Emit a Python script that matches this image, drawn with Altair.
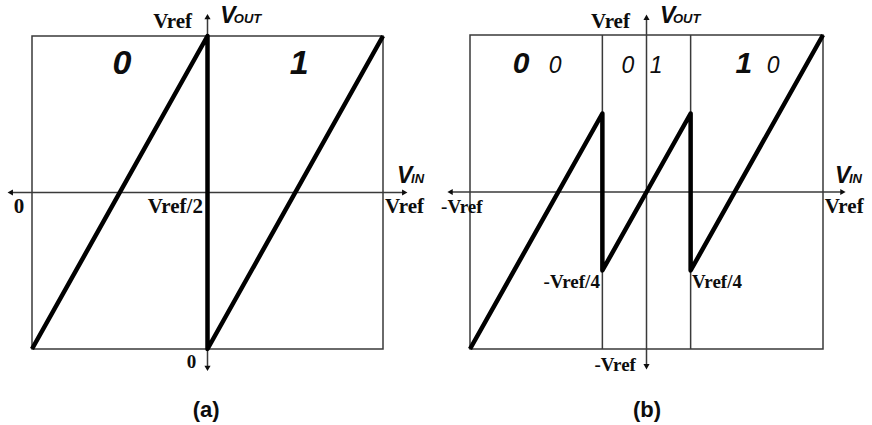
import altair as alt
import pandas as pd

# ---- transfer characteristics (input and output normalised to Vref = 1) ----
# (a) 1-bit stage: Vin from 0 to Vref, residue 0..Vref
vin_a = [0.0, 0.5, 0.5, 1.0]
vout_a = [0.0, 1.0, 0.0, 1.0]
# (b) 1.5-bit stage: Vin from -Vref to Vref, decision levels at +/-Vref/4
vin_b = [-1.0, -0.25, -0.25, 0.25, 0.25, 1.0]
vout_b = [-1.0, 0.5, -0.5, 0.5, -0.5, 1.0]
thresholds_b = [-0.25, 0.25]

# digital output codes of each region
codes_a = ["0", "1"]
codes_b = [("0", "0"), ("0", "1"), ("1", "0")]

# axis annotations
ticks_a = {"left": "0", "mid": "Vref/2", "right": "Vref", "top": "Vref", "bottom": "0"}
ticks_b = {"left": "-Vref", "right": "Vref", "top": "Vref", "bottom": "-Vref",
           "thr_lo": "-Vref/4", "thr_hi": "Vref/4"}
captions = ["(a)", "(b)"]

# ---- layout ----
W, H = 436, 425
INK = "#0d0d0d"
LINE = "#3a3a3a"

STYLES = {
    "serif_r": dict(font="Liberation Serif", fontWeight="bold", align="right"),
    "serif_l": dict(font="Liberation Serif", fontWeight="bold", align="left"),
    "v_main": dict(font="Liberation Sans", fontWeight="bold", fontStyle="italic", align="left"),
    "code_big": dict(font="Liberation Sans", fontWeight="bold", fontStyle="italic", align="center"),
    "code_small": dict(font="Liberation Sans", fontStyle="italic", align="center"),
    "caption": dict(font="Liberation Sans", fontWeight="bold", align="center"),
}


def panel(xdom, ydom, box, curve, segs, heads, labels):
    sx = alt.Scale(domain=xdom, nice=False, zero=False)
    sy = alt.Scale(domain=ydom, nice=False, zero=False)

    def xq(f):
        return alt.X(f, type="quantitative", scale=sx, axis=None)

    def yq(f):
        return alt.Y(f, type="quantitative", scale=sy, axis=None)

    frame = alt.Chart(pd.DataFrame([box])).mark_rect(
        fillOpacity=0, stroke=LINE, strokeWidth=1.5
    ).encode(x=xq("x0"), x2="x1", y=yq("y0"), y2="y1")

    rules = alt.Chart(pd.DataFrame(segs)).mark_rule(
        color=LINE, strokeWidth=1.5
    ).encode(x=xq("x0"), x2="x1", y=yq("y0"), y2="y1")

    arrows = alt.Chart(pd.DataFrame(heads)).mark_point(
        filled=True, color=INK, opacity=1, size=38
    ).encode(x=xq("x"), y=yq("y"), shape=alt.Shape("shape:N", scale=None))

    line = alt.Chart(pd.DataFrame(curve)).mark_line(
        color="black", strokeWidth=4.5, strokeJoin="round", strokeCap="butt"
    ).encode(x=xq("vin"), y=yq("vout"), order="i:Q")

    ldf = pd.DataFrame(labels)
    texts = []
    for key, st in STYLES.items():
        texts.append(
            alt.Chart(ldf).transform_filter(alt.datum.style == key).mark_text(
                baseline="alphabetic", color=INK, **st
            ).encode(
                x=xq("x"), y=yq("y"), text="text:N",
                size=alt.Size("fs:Q", scale=None),
            )
        )
    return alt.layer(frame, rules, line, arrows, *texts).properties(width=W, height=H)


# ---------- panel (a) ----------
ov_a = 0.062
curve_a = [dict(i=i, vin=v, vout=o) for i, (v, o) in enumerate(zip(vin_a, vout_a))]
segs_a = [
    dict(x0=-ov_a, x1=1 + ov_a, y0=0.5, y1=0.5),
    dict(x0=0.5, x1=0.5, y0=-ov_a, y1=1 + ov_a),
]
heads_a = [
    dict(x=-ov_a, y=0.5, shape="triangle-left"),
    dict(x=1 + ov_a, y=0.5, shape="triangle-right"),
    dict(x=0.5, y=1 + ov_a, shape="triangle-up"),
    dict(x=0.5, y=-ov_a, shape="triangle-down"),
]
labels_a = [
    dict(text=ticks_a["top"], x=0.456, y=1.026, style="serif_r", fs=21),
    dict(text="V", x=0.536, y=1.042, style="v_main", fs=23),
    dict(text="OUT", x=0.575, y=1.042, style="v_main", fs=13),
    dict(text="V", x=1.040, y=0.530, style="v_main", fs=23),
    dict(text="IN", x=1.080, y=0.530, style="v_main", fs=13),
    dict(text=ticks_a["left"], x=-0.052, y=0.435, style="serif_l", fs=21),
    dict(text=ticks_a["mid"], x=0.487, y=0.435, style="serif_r", fs=21),
    dict(text=ticks_a["right"], x=1.006, y=0.435, style="serif_l", fs=21),
    dict(text=ticks_a["bottom"], x=0.468, y=-0.061, style="serif_r", fs=19),
    dict(text=codes_a[0], x=0.256, y=0.879, style="code_big", fs=34),
    dict(text=codes_a[1], x=0.761, y=0.879, style="code_big", fs=34),
    dict(text=captions[0], x=0.496, y=-0.217, style="caption", fs=22),
]
chart_a = panel(
    [-32 / 351, 404 / 351], [-76 / 313, 349 / 313],
    dict(x0=0, x1=1, y0=0, y1=1), curve_a, segs_a, heads_a, labels_a,
)

# ---------- panel (b) ----------
ov_b = 0.113
curve_b = [dict(i=i, vin=v, vout=o) for i, (v, o) in enumerate(zip(vin_b, vout_b))]
segs_b = [
    dict(x0=-1 - ov_b, x1=1 + ov_b, y0=0, y1=0),
    dict(x0=0, x1=0, y0=-1 - ov_b, y1=1 + ov_b),
] + [dict(x0=t, x1=t, y0=-1, y1=1) for t in thresholds_b]
heads_b = [
    dict(x=-1 - ov_b, y=0, shape="triangle-left"),
    dict(x=1 + ov_b, y=0, shape="triangle-right"),
    dict(x=0, y=1 + ov_b, shape="triangle-up"),
    dict(x=0, y=-1 - ov_b, shape="triangle-down"),
]
labels_b = [
    dict(text=ticks_b["top"], x=-0.094, y=1.045, style="serif_r", fs=21),
    dict(text="V", x=0.077, y=1.076, style="v_main", fs=23),
    dict(text="OUT", x=0.150, y=1.076, style="v_main", fs=13),
    dict(text="V", x=1.068, y=0.057, style="v_main", fs=23),
    dict(text="IN", x=1.147, y=0.057, style="v_main", fs=13),
    dict(text=ticks_b["left"], x=-1.164, y=-0.134, style="serif_l", fs=19),
    dict(text=ticks_b["right"], x=1.010, y=-0.134, style="serif_l", fs=21),
    dict(text=ticks_b["thr_lo"], x=-0.264, y=-0.612, style="serif_r", fs=19),
    dict(text=ticks_b["thr_hi"], x=0.258, y=-0.612, style="serif_l", fs=19),
    dict(text=ticks_b["bottom"], x=-0.060, y=-1.140, style="serif_r", fs=19),
    dict(text=codes_b[0][0], x=-0.711, y=0.758, style="code_big", fs=30),
    dict(text=codes_b[0][1], x=-0.518, y=0.758, style="code_small", fs=23),
    dict(text=codes_b[1][0], x=-0.105, y=0.758, style="code_small", fs=23),
    dict(text=codes_b[1][1], x=0.054, y=0.758, style="code_small", fs=23),
    dict(text=codes_b[2][0], x=0.552, y=0.758, style="code_big", fs=30),
    dict(text=codes_b[2][1], x=0.717, y=0.758, style="code_small", fs=23),
    dict(text=captions[1], x=0.003, y=-1.433, style="caption", fs=22),
]
chart_b = panel(
    [-1 - 34 / 176.5, 402 / 176.5 - 1], [-76 / 157 - 1, 349 / 157 - 1],
    dict(x0=-1, x1=1, y0=-1, y1=1), curve_b, segs_b, heads_b, labels_b,
)

chart = (
    alt.hconcat(chart_a, chart_b, spacing=0)
    .properties(padding=0, background="white")
    .configure_view(stroke=None)
)
chart.save("out.html", embed_options={"renderer": "svg", "actions": False})
